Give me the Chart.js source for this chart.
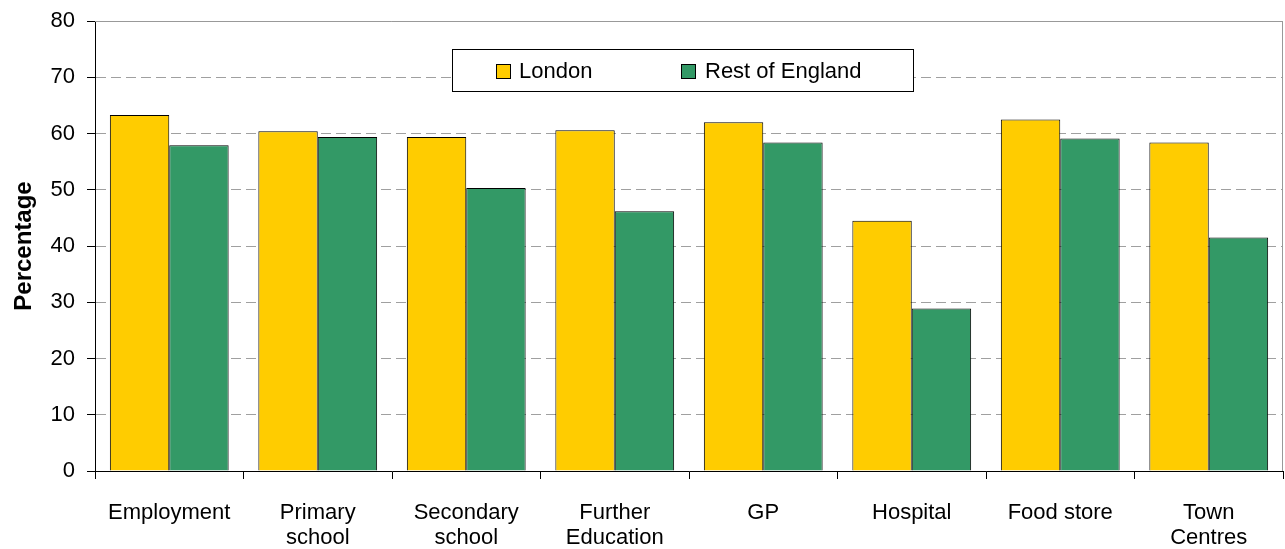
<!DOCTYPE html>
<html>
<head>
<meta charset="utf-8">
<script src="https://cdn.jsdelivr.net/npm/chart.js@4.4.0/dist/chart.umd.min.js"></script>
<style>
	html, body { margin: 0; padding: 0; background: #fff; }
	#wrap { width: 1285px; height: 549px; }
</style>
</head>
<body>
<div id="wrap"><canvas id="myChart" width="1285" height="549"></canvas></div>
<script>
const categories = ['Employment', ['Primary', 'school'], ['Secondary', 'school'], ['Further', 'Education'], 'GP', 'Hospital', 'Food store', ['Town', 'Centres']];
const london = [63.3, 60.4, 59.4, 60.6, 62.0, 44.5, 62.5, 58.4];
const restOfEngland = [57.9, 59.4, 50.3, 46.2, 58.4, 28.9, 59.1, 41.5];
const seriesNames = ['London', 'Rest of England'];
const seriesColors = ['#FFCC00', '#339966'];
const yMin = 0, yMax = 80, yStep = 10;

const FONT = 'Liberation Sans, Arial, sans-serif';

// grey frame on the top and right of the plot
const plotFrame = {
	id: 'plotFrame',
	beforeDatasetsDraw(chart) {
		const { ctx, chartArea: a } = chart;
		ctx.save();
		ctx.strokeStyle = '#999';
		ctx.lineWidth = 1;
		ctx.beginPath();
		ctx.moveTo(a.left, a.top + 0.5);
		ctx.lineTo(a.right - 0.5, a.top + 0.5);
		ctx.lineTo(a.right - 0.5, a.bottom);
		ctx.stroke();
		ctx.restore();
	}
};

// boxed legend sitting inside the plot
const boxedLegend = {
	id: 'boxedLegend',
	afterDatasetsDraw(chart) {
		const ctx = chart.ctx;
		const bx = 452.5, by = 49.5, bw = 461, bh = 42;
		ctx.save();
		ctx.fillStyle = '#fff';
		ctx.fillRect(bx, by, bw, bh);
		ctx.strokeStyle = '#000';
		ctx.lineWidth = 1;
		ctx.strokeRect(bx, by, bw, bh);
		const items = [{ sx: 496.5, tx: 519 }, { sx: 681.5, tx: 705 }];
		ctx.font = '22px ' + FONT;
		ctx.textBaseline = 'middle';
		chart.data.datasets.forEach((ds, i) => {
			ctx.fillStyle = ds.backgroundColor;
			ctx.fillRect(items[i].sx, 64.5, 14, 14);
			ctx.strokeStyle = '#000';
			ctx.strokeRect(items[i].sx, 64.5, 14, 14);
			ctx.fillStyle = '#000';
			ctx.fillText(ds.label, items[i].tx, 72);
		});
		ctx.restore();
	}
};

const ctx = document.getElementById('myChart');
new Chart(ctx, {
	type: 'bar',
	data: {
		labels: categories,
		datasets: [{
			label: seriesNames[0],
			data: london,
			backgroundColor: seriesColors[0],
			borderColor: '#000',
			borderWidth: 1
		}, {
			label: seriesNames[1],
			data: restOfEngland,
			backgroundColor: seriesColors[1],
			borderColor: '#000',
			borderWidth: 1
		}]
	},
	options: {
		responsive: false,
		animation: false,
		categoryPercentage: 0.8,
		barPercentage: 1.0,
		layout: { padding: { top: 21, right: 2, left: 8, bottom: 0 } },
		plugins: {
			legend: { display: false },
			tooltip: { enabled: false }
		},
		scales: {
			x: {
				afterFit(scale) { scale.height = 78; },
				grid: {
					offset: true,
					drawOnChartArea: false,
					tickLength: 8,
					tickColor: '#000'
				},
				border: { color: '#000', width: 1 },
				ticks: {
					color: '#000',
					font: { family: FONT, size: 22, lineHeight: 1.15 },
					padding: 21,
					maxRotation: 0,
					autoSkip: false
				}
			},
			y: {
				min: yMin,
				max: yMax,
				afterFit(scale) {
					scale.width = 87;
					scale.paddingTop = 0;
					scale.paddingBottom = 0;
				},
				ticks: {
					stepSize: yStep,
					color: '#000',
					font: { family: FONT, size: 22 },
					padding: 12
				},
				grid: {
					color: '#a0a0a0',
					tickColor: '#000',
					tickLength: 8,
					tickBorderDash: []
				},
				border: { color: '#000', width: 1, dash: [10, 5] },
				title: {
					display: true,
					text: 'Percentage',
					color: '#000',
					font: { family: FONT, size: 24, weight: 'bold' },
					padding: { top: 2, bottom: 0 }
				}
			}
		}
	},
	plugins: [plotFrame, boxedLegend]
});
</script>
</body>
</html>
